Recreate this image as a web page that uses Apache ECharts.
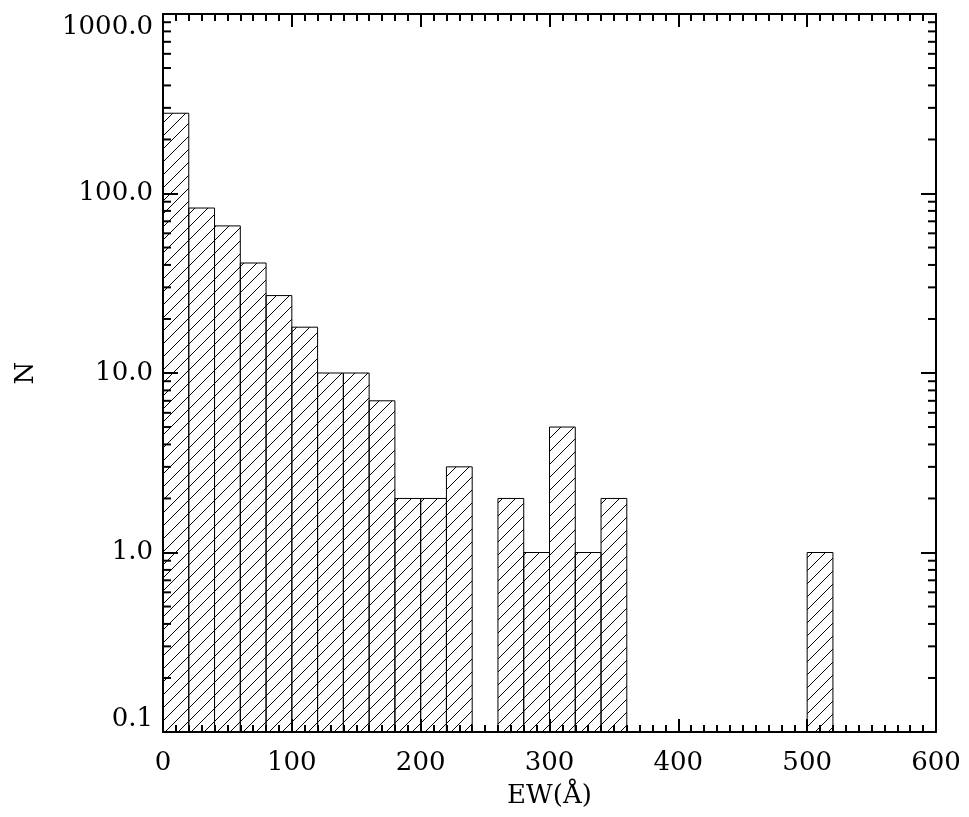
<!DOCTYPE html>
<html>
<head>
<meta charset="utf-8">
<script src="https://cdn.jsdelivr.net/npm/echarts@6/dist/echarts.min.js"></script>
<style>html,body{margin:0;padding:0;background:#fff}#c{width:969px;height:817px}</style>
</head>
<body>
<div id="c"></div>
<script>
// Histogram bins (EW in Å), bin width 20
var binWidth = 20;
var binStarts = [0,20,40,60,80,100,120,140,160,180,200,220,240,260,280,300,320,340,360,380,400,420,440,460,480,500,520,540,560,580];
var counts    = [280,83,66,41,27,18,10,10,7,2,2,3,0,2,1,5,1,2,0,0,0,0,0,0,0,1,0,0,0,0];
var yTickLabels = ['0.1','1.0','10.0','100.0','1000.0'];
var decades = [0.1, 1, 10, 100];
var minorMultipliers = [2,3,4,5,6,7,8,9];

var FONT = 'DejaVu Serif';

// hatch pattern tile
var s = 13;
var tile = document.createElement('canvas');
tile.width = s; tile.height = s;
var tc = tile.getContext('2d');
tc.strokeStyle = '#000'; tc.lineWidth = 1;
tc.beginPath();
tc.moveTo(0, s); tc.lineTo(s, 0);
tc.moveTo(-2, 2); tc.lineTo(2, -2);
tc.moveTo(s - 2, s + 2); tc.lineTo(s + 2, s - 2);
tc.stroke();

var histData = [];
for (var i = 0; i < binStarts.length; i++) {
  if (counts[i] > 0) histData.push([binStarts[i], binStarts[i] + binWidth, counts[i]]);
}
var minorVals = [];
decades.forEach(function (d) { minorMultipliers.forEach(function (m) { minorVals.push([m * d]); }); });

var chart = echarts.init(document.getElementById('c'), null, {renderer: 'canvas'});
var axisLineStyle = {color: '#000', width: 2};
chart.setOption({
  animation: false,
  backgroundColor: '#fff',
  grid: {left: 163, right: 33, top: 14, bottom: 85},
  xAxis: [{
    type: 'value', min: 0, max: 600, interval: 100, position: 'bottom',
    name: 'EW(Å)', nameLocation: 'middle', nameGap: 51,
    nameTextStyle: {fontFamily: FONT, fontSize: 26, color: '#000'},
    axisLine: {show: true, onZero: false, lineStyle: axisLineStyle},
    axisTick: {show: true, inside: true, length: 13, lineStyle: {color: '#000', width: 2}},
    minorTick: {show: true, splitNumber: 10, length: 7, lineStyle: {color: '#000', width: 2}},
    axisLabel: {fontFamily: FONT, fontSize: 26, color: '#000', margin: 18},
    splitLine: {show: false}
  }, {
    type: 'value', min: 0, max: 600, interval: 100, position: 'top',
    axisLine: {show: true, onZero: false, lineStyle: axisLineStyle},
    axisTick: {show: true, inside: true, length: 13, lineStyle: {color: '#000', width: 2}},
    minorTick: {show: true, splitNumber: 10, length: 7, lineStyle: {color: '#000', width: 2}},
    axisLabel: {show: false}, splitLine: {show: false}
  }],
  yAxis: [{
    type: 'log', logBase: 10, min: 0.1, max: 1000, position: 'left',
    name: 'N', nameLocation: 'middle', nameGap: 124,
    nameTextStyle: {fontFamily: FONT, fontSize: 26, color: '#000'},
    axisLine: {show: true, onZero: false, lineStyle: axisLineStyle},
    axisTick: {show: true, inside: true, length: 15, lineStyle: {color: '#000', width: 2}},
    axisLabel: {fontFamily: FONT, fontSize: 26, color: '#000', margin: 10,
      verticalAlignMinLabel: 'bottom', verticalAlignMaxLabel: 'top',
      formatter: function (v) {
        var e = Math.round(Math.log10(v)) + 1;
        return yTickLabels[e] !== undefined ? yTickLabels[e] : v.toFixed(1);
      }},
    splitLine: {show: false}
  }, {
    type: 'log', logBase: 10, min: 0.1, max: 1000, position: 'right',
    axisLine: {show: true, onZero: false, lineStyle: axisLineStyle},
    axisTick: {show: true, inside: true, length: 15, lineStyle: {color: '#000', width: 2}},
    axisLabel: {show: false}, splitLine: {show: false}
  }],
  series: [{
    type: 'custom',
    xAxisIndex: 0, yAxisIndex: 0,
    data: histData,
    encode: {x: [0, 1], y: 2},
    renderItem: function (params, api) {
      var p0 = api.coord([api.value(0), api.value(2)]);
      var p1 = api.coord([api.value(1), 0.1]);
      return {
        type: 'rect',
        shape: {x: p0[0], y: p0[1], width: p1[0] - p0[0], height: p1[1] - p0[1]},
        style: {fill: {image: tile, repeat: 'repeat'}, stroke: '#000', lineWidth: 1}
      };
    },
    z: 1
  }, {
    type: 'custom',
    xAxisIndex: 0, yAxisIndex: 0,
    data: minorVals,
    encode: {y: 0},
    clip: false,
    renderItem: function (params, api) {
      var v = api.value(0);
      var l = api.coord([0, v]);
      var r = api.coord([600, v]);
      return {
        type: 'group',
        children: [
          {type: 'line', shape: {x1: l[0], y1: l[1], x2: l[0] + 8, y2: l[1]}, style: {stroke: '#000', lineWidth: 2}},
          {type: 'line', shape: {x1: r[0], y1: r[1], x2: r[0] - 8, y2: r[1]}, style: {stroke: '#000', lineWidth: 2}}
        ]
      };
    },
    z: 5
  }]
});
</script>
</body>
</html>
